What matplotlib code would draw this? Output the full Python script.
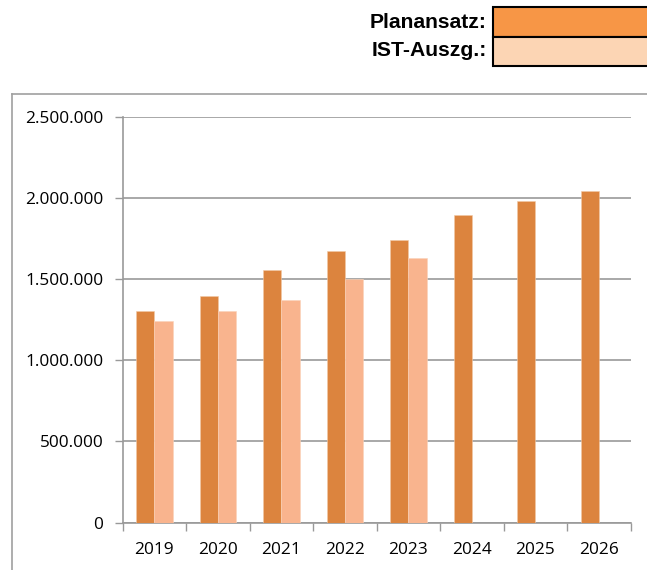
import matplotlib.pyplot as plt
from matplotlib.patches import Rectangle
from matplotlib.lines import Line2D
from matplotlib.ticker import FuncFormatter
import numpy as np

years = ['2019', '2020', '2021', '2022', '2023', '2024', '2025', '2026']
plan = [1305000, 1396000, 1556000, 1675000, 1743000, 1897000, 1981000, 2044000]
ist = [1240000, 1303000, 1371000, 1500000, 1630000]

plt.rcParams['font.family'] = ['Open Sans', 'DejaVu Sans']

fig = plt.figure(figsize=(6.47, 5.7), dpi=100)
ax = fig.add_axes([0.1896, 0.0830, 0.7852, 0.7123])

x = np.arange(len(years))
w = 0.29
ax.bar(x - w / 2, plan, width=w, color='#DC843E', edgecolor='#F2C9A6', linewidth=0.4, zorder=3)
ax.bar(x[:len(ist)] + w / 2, ist, width=w, color='#F9B48E', edgecolor='#FAD3BA', linewidth=0.4, zorder=3)

ax.set_xlim(-0.5, len(years) - 0.5)
ax.set_ylim(0, 2500000)
ax.set_yticks(np.arange(0, 2500001, 500000))
ax.yaxis.set_major_formatter(FuncFormatter(lambda v, p: f'{int(v):,}'.replace(',', '.')))
ax.set_xticks(x)
ax.set_xticklabels(years)
ax.set_xticks(np.arange(-0.5, len(years), 1), minor=True)
ax.tick_params(axis='x', which='major', length=0, labelsize=12.4, pad=14)
ax.tick_params(axis='x', which='minor', length=6, color='#999999', width=1)
ax.tick_params(axis='y', length=6, color='#999999', width=1, labelsize=12.4, pad=8)
ax.grid(axis='y', color='#999999', linewidth=1.2, zorder=0)

for s in ['top', 'right']:
    ax.spines[s].set_visible(False)
for s in ['left', 'bottom']:
    ax.spines[s].set_color('#999999')
    ax.spines[s].set_linewidth(1.2)

# chart frame (runs off the image to the right and bottom)
fx = 11.7 / 647
fy = 1 - 94.3 / 570
fig.add_artist(Line2D([fx, fx], [0, fy], color='#A0A0A0', linewidth=1.2))
fig.add_artist(Line2D([fx, 1.0], [fy, fy], color='#A0A0A0', linewidth=1.2))

# legend boxes at the top
bx = 493.3 / 647
fig.add_artist(Rectangle((bx, 1 - 36.7 / 570), 0.3, 29.4 / 570, facecolor='#F79646',
                         edgecolor='black', linewidth=1.5))
fig.add_artist(Rectangle((bx, 1 - 65.7 / 570), 0.3, 29.0 / 570, facecolor='#FCD5B4',
                         edgecolor='black', linewidth=1.5))
fig.text(486.7 / 647, 1 - 22 / 570, 'Planansatz:', ha='right', va='center',
         fontsize=15.2, fontweight='bold', family='Liberation Sans')
fig.text(486.7 / 647, 1 - 51 / 570, 'IST-Auszg.:', ha='right', va='center',
         fontsize=15.2, fontweight='bold', family='Liberation Sans')

plt.savefig('out.png', dpi=100)
